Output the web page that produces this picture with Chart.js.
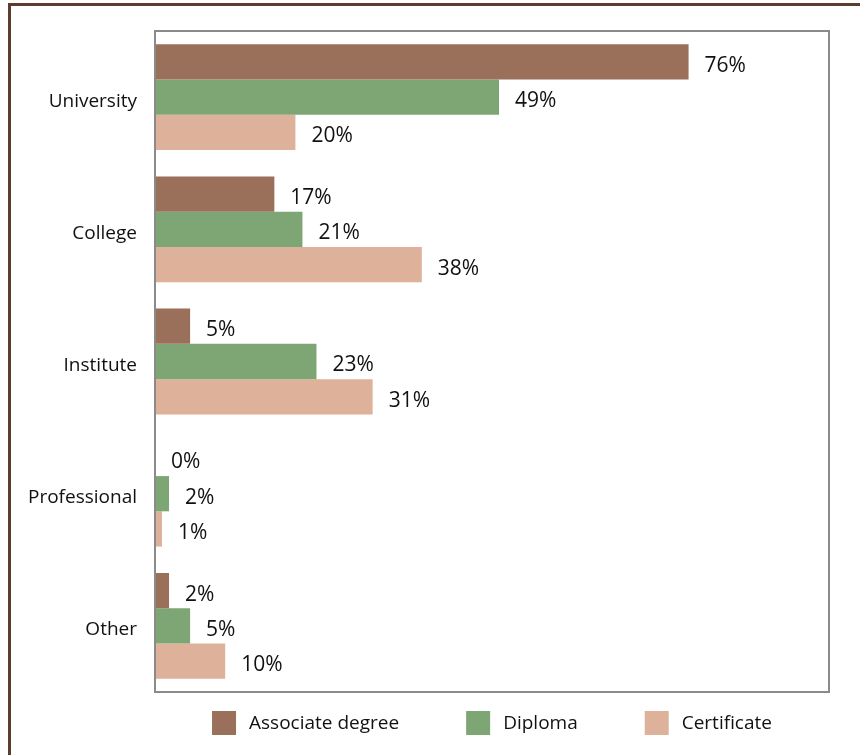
<!DOCTYPE html>
<html>
<head>
<meta charset="utf-8">
<script src="https://cdn.jsdelivr.net/npm/chart.js@4"></script>
<style>
  html, body { margin: 0; padding: 0; background: #fff; }
  #wrap { position: relative; width: 860px; height: 755px; }
  #frame { position: absolute; left: 8px; top: 3px; right: -10px; bottom: -10px;
           border-left: 3px solid #5a3d2c; border-top: 3px solid #5a3d2c; }
  canvas { position: absolute; left: 0; top: 0; }
</style>
</head>
<body>
<div id="wrap">
  <div id="frame"></div>
  <canvas id="chart" width="860" height="755"></canvas>
</div>
<script>
const categories = ['University', 'College', 'Institute', 'Professional', 'Other'];
const associateDegree = [76, 17, 5, 0, 2];
const diploma = [49, 21, 23, 2, 5];
const certificate = [20, 38, 31, 1, 10];

const FONT = '"Open Sans", "Noto Sans", sans-serif';

// grey box round the plot area
const plotBox = {
  id: 'plotBox',
  afterDraw(chart) {
    const a = chart.chartArea, ctx = chart.ctx;
    ctx.save();
    ctx.strokeStyle = '#8a8a8a';
    ctx.lineWidth = 2;
    ctx.strokeRect(a.left, a.top, a.right - a.left, a.bottom - a.top);
    ctx.restore();
  }
};

// percentage after the end of every bar
const valueLabels = {
  id: 'valueLabels',
  afterDatasetsDraw(chart) {
    const ctx = chart.ctx;
    ctx.save();
    ctx.font = '21px ' + FONT;
    ctx.fillStyle = '#111';
    ctx.textBaseline = 'middle';
    ctx.textAlign = 'left';
    chart.data.datasets.forEach((ds, i) => {
      chart.getDatasetMeta(i).data.forEach((bar, j) => {
        ctx.fillText(ds.data[j] + '%', bar.x + 16, bar.y + 4);
      });
    });
    ctx.restore();
  }
};

// legend row under the plot, centred on the plot area
const bottomLegend = {
  id: 'bottomLegend',
  afterDraw(chart) {
    const ctx = chart.ctx, a = chart.chartArea;
    const box = 24, textGap = 13, itemGap = 67;
    ctx.save();
    ctx.font = '19px ' + FONT;
    const items = chart.data.datasets.map(ds => ({
      text: ds.label, color: ds.backgroundColor, w: box + textGap + ctx.measureText(ds.label).width
    }));
    const total = items.reduce((s, it) => s + it.w, 0) + itemGap * (items.length - 1);
    let x = (a.left + a.right) / 2 - total / 2;
    const y = a.bottom + 31;
    ctx.textBaseline = 'middle';
    items.forEach(it => {
      ctx.fillStyle = it.color;
      ctx.fillRect(x, y - box / 2, box, box);
      ctx.fillStyle = '#111';
      ctx.fillText(it.text, x + box + textGap, y + 1);
      x += it.w + itemGap;
    });
    ctx.restore();
  }
};

new Chart(document.getElementById('chart'), {
  type: 'bar',
  data: {
    labels: categories,
    datasets: [
      { label: 'Associate degree', data: associateDegree, backgroundColor: '#9b705a' },
      { label: 'Diploma', data: diploma, backgroundColor: '#7ea674' },
      { label: 'Certificate', data: certificate, backgroundColor: '#deb19a' }
    ]
  },
  options: {
    indexAxis: 'y',
    responsive: false,
    animation: false,
    categoryPercentage: 0.8,
    barPercentage: 1.0,
    layout: { padding: { left: 0, top: 31, right: 31, bottom: 63 } },
    plugins: {
      legend: { display: false },
      tooltip: { enabled: false }
    },
    scales: {
      x: {
        display: false,
        min: 0,
        max: 96
      },
      y: {
        grid: { display: false },
        border: { display: false },
        ticks: { padding: 10, labelOffset: 4, color: '#111', font: { family: FONT, size: 19 } },
        afterFit: s => { s.width = 155; }
      }
    }
  },
  plugins: [plotBox, valueLabels, bottomLegend]
});
</script>
</body>
</html>
